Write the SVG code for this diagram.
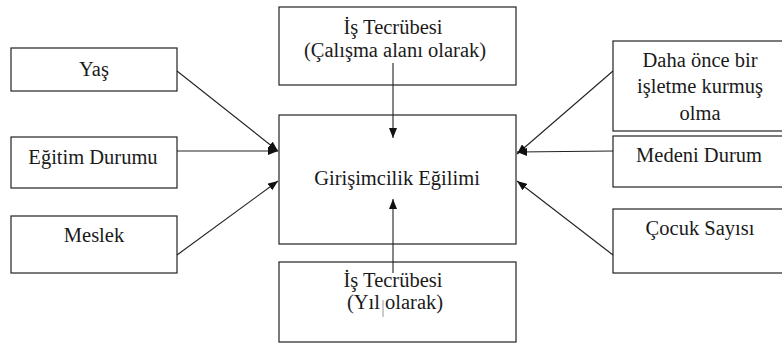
<svg xmlns="http://www.w3.org/2000/svg" width="782" height="347" viewBox="0 0 782 347">
<style>
.box{fill:#fff;stroke:#222;stroke-width:1.2}
.t{font-family:'Liberation Serif','Times New Roman',Times,serif;font-size:20.5px;fill:#1a1a1a;text-anchor:middle}
.c{stroke:#222;stroke-width:1.1;fill:none}
</style>
<defs>
<marker id="ah" viewBox="0 0 10 8" refX="10" refY="4" markerWidth="10" markerHeight="8" markerUnits="userSpaceOnUse" orient="auto">
<path d="M0,0 L10,4 L0,8 Z" fill="#111"/>
</marker>
</defs>
<rect width="782" height="347" fill="#fff"/>
<g id="yas"><rect class="box" x="11" y="48" width="166" height="43"/><text class="t" x="94" y="76">Yaş</text></g>
<g id="egitim"><rect class="box" x="11" y="137" width="166" height="51"/><text class="t" x="93" y="164">Eğitim Durumu</text></g>
<g id="meslek"><rect class="box" x="11" y="216" width="166" height="57"/><text class="t" x="94" y="242">Meslek</text></g>
<g id="is-tecrubesi-alan"><rect class="box" x="279" y="7" width="237" height="78"/><text class="t" x="393" y="34">İş Tecrübesi</text><text class="t" x="395" y="57">(Çalışma alanı olarak)</text></g>
<g id="girisimcilik"><rect class="box" x="279" y="115" width="237" height="129"/><text class="t" x="397" y="185">Girişimcilik Eğilimi</text></g>
<g id="is-tecrubesi-yil"><rect class="box" x="279" y="262" width="237" height="80"/><text class="t" x="393" y="287">İş Tecrübesi</text><text class="t" x="395" y="309">(Yıl olarak)</text><line x1="383" y1="300" x2="383" y2="317" stroke="#999" stroke-width="1"/></g>
<g id="daha-once"><rect class="box" x="613" y="41" width="174" height="90"/><text class="t" x="700" y="67">Daha önce bir</text><text class="t" x="700" y="93">işletme kurmuş</text><text class="t" x="700" y="120">olma</text></g>
<g id="medeni"><rect class="box" x="613" y="136" width="174" height="51"/><text class="t" x="699" y="162">Medeni Durum</text></g>
<g id="cocuk"><rect class="box" x="613" y="209" width="174" height="64"/><text class="t" x="700" y="235">Çocuk Sayısı</text></g>
<g id="connectors">
<line class="c" x1="177" y1="71" x2="278" y2="151" marker-end="url(#ah)"/>
<line class="c" x1="177" y1="151" x2="278" y2="151" marker-end="url(#ah)"/>
<line class="c" x1="177" y1="255" x2="278" y2="181" marker-end="url(#ah)"/>
<line class="c" x1="393" y1="63" x2="393" y2="138" marker-end="url(#ah)"/>
<line class="c" x1="393" y1="273" x2="393" y2="199" marker-end="url(#ah)"/>
<line class="c" x1="613" y1="71" x2="517" y2="154" marker-end="url(#ah)"/>
<line class="c" x1="613" y1="151" x2="517" y2="152" marker-end="url(#ah)"/>
<line class="c" x1="613" y1="255" x2="517" y2="181" marker-end="url(#ah)"/>
</g>
</svg>
